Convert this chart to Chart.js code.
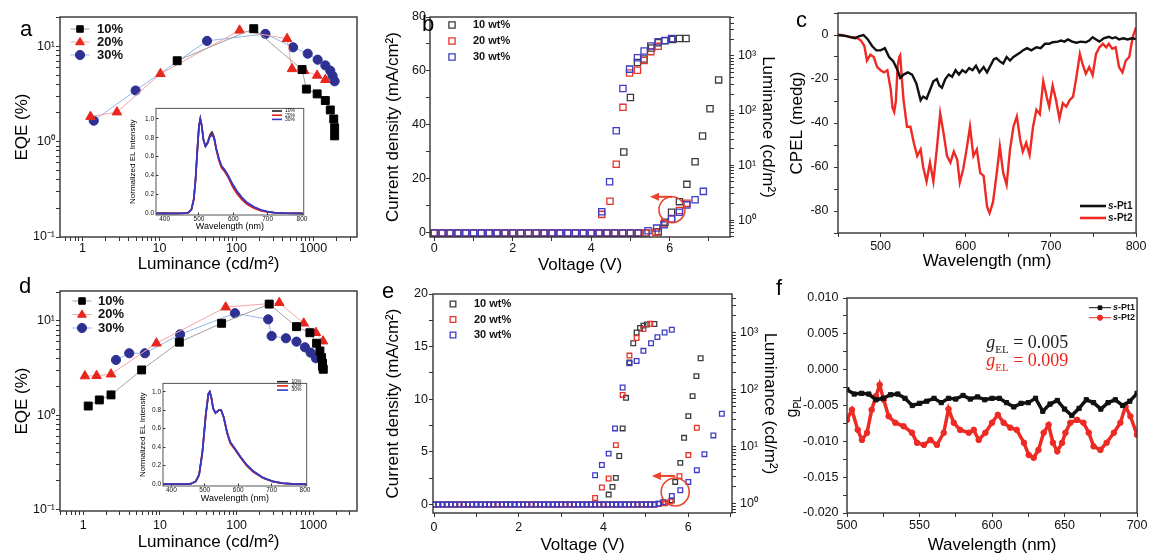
<!DOCTYPE html>
<html>
<head>
<meta charset="utf-8">
<title>EL device figure</title>
<script src="https://cdn.jsdelivr.net/npm/chart.js@4.4.1/dist/chart.umd.min.js"></script>
<style>
  body { margin: 0; background: #fff; }
  #fig { position: relative; width: 1149px; height: 556px; overflow: hidden; font-family: "Liberation Sans", Arial, sans-serif; }
  .panel { position: absolute; }
  .tag { position: absolute; font-size: 22px; line-height: 1; color: #000; }
</style>
</head>
<body>
<div id="fig">
  <div class="panel" style="left:0;top:0;width:380px;height:276px"><canvas id="chartA"></canvas></div>
  <div class="panel" style="left:380px;top:0;width:402px;height:276px"><canvas id="chartB"></canvas></div>
  <div class="panel" style="left:770px;top:0;width:379px;height:276px"><canvas id="chartC"></canvas></div>
  <div class="panel" style="left:0;top:276px;width:380px;height:280px"><canvas id="chartD"></canvas></div>
  <div class="panel" style="left:380px;top:276px;width:402px;height:280px"><canvas id="chartE"></canvas></div>
  <div class="panel" style="left:770px;top:276px;width:379px;height:280px"><canvas id="chartF"></canvas></div>
  <div class="panel" style="left:125px;top:100px;width:185px;height:137px"><canvas id="insetA"></canvas></div>
  <div class="panel" style="left:128px;top:375px;width:185px;height:133px"><canvas id="insetD"></canvas></div>
  <div class="tag" style="left:20px;top:18px">a</div>
  <div class="tag" style="left:422px;top:13px">b</div>
  <div class="tag" style="left:796px;top:9px">c</div>
  <div class="tag" style="left:19px;top:275px">d</div>
  <div class="tag" style="left:382px;top:280px">e</div>
  <div class="tag" style="left:776px;top:277px">f</div>
</div>
<script>
// ---------- panel a : EQE vs luminance ----------
const aLum10 = [17, 168, 713, 812, 1120, 1430, 1660, 1840, 1890, 1890];
const aEqe10 = [7.06, 15.3, 5.7, 3.56, 3.17, 2.7, 2.15, 1.73, 1.4, 1.15];
const aLum20 = [1.27, 2.8, 10.3, 110, 455, 528, 760, 1120, 1430];
const aEqe20 = [1.83, 2.04, 5.15, 14.7, 12.0, 5.8, 5.55, 4.95, 4.46];
const aLum30 = [1.4, 4.9, 41.5, 238, 545, 844, 1137, 1432, 1660, 1775, 1890];
const aEqe30 = [1.66, 3.44, 11.4, 13.5, 9.76, 8.37, 7.24, 6.31, 5.55, 4.9, 4.3];

// inset of a : EL spectra
const aInWl = [375, 400, 440, 460, 470, 478, 485, 490, 495, 500, 504, 508, 513, 519, 525, 532, 538, 544, 550, 558, 566, 575, 585, 598, 610, 625, 640, 660, 680, 700, 720, 750, 800];
const aIn10 = [0, 0, 0, 0.003, 0.01, 0.04, 0.15, 0.35, 0.65, 0.92, 1.0, 0.93, 0.78, 0.71, 0.75, 0.83, 0.86, 0.81, 0.69, 0.57, 0.49, 0.45, 0.39, 0.29, 0.22, 0.15, 0.1, 0.06, 0.03, 0.016, 0.007, 0.002, 0];
const aIn20 = [0, 0, 0, 0.003, 0.01, 0.04, 0.15, 0.35, 0.65, 0.92, 1.0, 0.93, 0.78, 0.71, 0.74, 0.82, 0.84, 0.8, 0.68, 0.56, 0.48, 0.44, 0.38, 0.28, 0.21, 0.145, 0.095, 0.055, 0.028, 0.015, 0.006, 0.002, 0];
const aIn30 = [0, 0, 0, 0.003, 0.01, 0.04, 0.15, 0.35, 0.65, 0.92, 1.0, 0.93, 0.78, 0.71, 0.74, 0.81, 0.83, 0.8, 0.69, 0.58, 0.5, 0.46, 0.4, 0.31, 0.24, 0.17, 0.115, 0.07, 0.037, 0.019, 0.009, 0.003, 0];

// ---------- panel b : J-V-L ----------
const bBaseV = [0, 0.2, 0.4, 0.6, 0.8, 1, 1.2, 1.4, 1.6, 1.8, 2, 2.2, 2.4, 2.6, 2.8, 3, 3.2, 3.4, 3.6, 3.8, 4, 4.2, 4.4, 4.6, 4.8, 5, 5.2];
const bBaseJ = [0, 0, 0, 0, 0, 0, 0, 0, 0, 0, 0, 0, 0, 0, 0, 0, 0, 0, 0, 0, 0, 0, 0, 0, 0, 0, 0];
const bJV10 = [5.4, 5.71, 5.88, 6.05, 6.25, 6.44, 6.65, 6.84, 7.03, 7.25];
const bJ10 = [0, 0.4, 4, 7.7, 11.6, 18, 26.4, 35.9, 46, 56.7];
const bJV20 = [5.4, 5.65, 5.86, 6.05, 6.25, 6.44];
const bJ20 = [0, 0.3, 3.4, 5.2, 8.3, 11];
const bJV30 = [5.45, 5.67, 5.86, 6.05, 6.25, 6.44, 6.65, 6.86];
const bJ30 = [0.8, 1.8, 3, 5.2, 7.7, 10.4, 12.3, 15.4];
const bLV10 = [4.83, 5.0, 5.18, 5.35, 5.54, 5.71, 5.88, 6.08, 6.25, 6.42];
const bL10 = [17.5, 174, 760, 880, 1400, 1740, 1900, 2000, 2090, 2090];
const bLV20 = [4.27, 4.48, 4.64, 4.81, 4.98, 5.18, 5.35, 5.52, 5.71];
const bL20 = [1.27, 2.2, 10.5, 115, 490, 550, 830, 1200, 1500];
const bLV30 = [4.27, 4.47, 4.64, 4.81, 4.98, 5.18, 5.35, 5.52, 5.71, 5.88, 6.05];
const bL30 = [1.42, 5, 43, 254, 575, 930, 1230, 1520, 1820, 1910, 2090];

// ---------- panel c : CPEL ----------
const cWl1 = [450, 460, 470, 475, 480, 485, 490, 495, 500, 505, 510, 515, 520, 523, 527, 532, 537, 542, 547, 550, 554, 558, 562, 566, 569, 572, 576, 580, 584, 588, 592, 596, 600, 604, 608, 612, 616, 621, 625, 629, 633, 636, 640, 644, 648, 652, 656, 660, 664, 667, 672, 677, 683, 688, 693, 698, 702, 708, 712, 716, 720, 725, 730, 735, 741, 745, 749, 753, 757, 762, 768, 772, 776, 780, 785, 790, 795, 800];
const cPt1 = [0, -0.5, -1.5, -0.5, 0, -2, -5, -7, -7, -6, -10, -12, -16, -19.5, -18, -17, -18, -22, -29.6, -28, -29, -25, -21, -20, -23, -24, -20, -18, -19, -16, -18, -16, -17, -15, -16, -14, -17, -14.6, -17, -14, -11, -10.5, -12, -13, -10, -11.6, -10, -9, -8, -7, -6, -7, -5.6, -6, -4, -4, -3.3, -3, -2.5, -3, -2, -3, -3.5, -3, -3.3, -2.5, -1, -2, -3, -1.5, -0.8, -1.5, -1, -2, -1.5, -2, -1.5, -1.8];
const cWl2 = [450, 455, 460, 465, 469, 473, 477, 481, 484, 488, 492, 496, 500, 504, 508, 512, 514, 516, 518, 520, 522, 523, 525, 527, 531, 535, 539, 543, 547, 550, 554, 558, 562, 566, 570, 574, 578, 582, 586, 590, 593, 597, 601, 605, 609, 613, 617, 621, 625, 628, 632, 636, 640, 644, 648, 652, 656, 660, 664, 667, 671, 675, 679, 683, 687, 691, 695, 698, 702, 706, 710, 714, 718, 722, 726, 730, 734, 737, 741, 745, 749, 753, 757, 761, 765, 768, 772, 776, 780, 784, 788, 792, 796, 800];
const cPt2 = [0, 0, -0.5, -1, -1, -1.5, -2.5, -5, -11.6, -9, -10, -14.6, -16, -17, -16, -25, -33, -35, -30, -14, -10, -9.3, -20, -29.6, -41.7, -41.7, -49, -55, -52, -60, -66.5, -58, -66.5, -52, -35.6, -44.7, -55, -58, -53, -56.7, -67, -61, -52, -41.7, -55, -52, -62.7, -64, -78, -81, -76, -64, -50.7, -62.7, -68, -52, -41.7, -37, -47.7, -53, -49, -54.5, -41.7, -34, -36, -21, -28, -32.6, -23, -29.6, -38, -31, -32.6, -29.6, -28, -19, -8.6, -13, -17.6, -14.6, -18.3, -8.6, -5.6, -4, -5.6, -4, -6.3, -5.6, -14.6, -17, -11.6, -10, -1, 3.5];

// ---------- panel d : EQE vs luminance ----------
const dLum10 = [1.16, 1.62, 2.3, 5.77, 17.9, 63.7, 266, 604, 903, 1104, 1220, 1283, 1320, 1320, 1350];
const dEqe10 = [1.25, 1.45, 1.64, 3.02, 5.95, 9.45, 15.1, 8.7, 7.5, 5.8, 4.8, 4.08, 3.56, 3.27, 3.07];
const dLum20 = [1.05, 1.49, 2.3, 9.0, 72, 360, 750, 1082, 1340];
const dEqe20 = [2.6, 2.62, 2.72, 5.8, 14, 15.6, 9.45, 7.5, 6.1];
const dLum30 = [2.67, 3.98, 6.37, 18.3, 95, 258, 286, 440, 604, 777, 922, 1082];
const dEqe30 = [3.86, 4.54, 4.54, 7.2, 12.1, 10.4, 6.92, 6.55, 6.03, 5.25, 4.61, 4.02];

// inset of d : EL spectra
const dInWl = [375, 400, 440, 459, 473, 483, 493, 503, 511, 515, 520, 525, 532, 542, 549, 557, 567, 576, 591, 606, 625, 645, 674, 704, 733, 772, 805];
const dIn10 = [0, 0, 0, 0.005, 0.03, 0.1, 0.35, 0.75, 0.98, 1.0, 0.93, 0.82, 0.77, 0.8, 0.8, 0.72, 0.55, 0.45, 0.38, 0.3, 0.21, 0.14, 0.07, 0.03, 0.01, 0, 0];
const dIn20 = [0, 0, 0, 0.005, 0.03, 0.1, 0.35, 0.75, 0.98, 1.0, 0.93, 0.82, 0.77, 0.8, 0.8, 0.72, 0.55, 0.44, 0.37, 0.29, 0.2, 0.13, 0.065, 0.027, 0.008, 0, 0];
const dIn30 = [0, 0, 0, 0.005, 0.03, 0.1, 0.35, 0.75, 0.98, 1.0, 0.93, 0.82, 0.77, 0.8, 0.8, 0.72, 0.56, 0.46, 0.38, 0.3, 0.21, 0.14, 0.07, 0.03, 0.01, 0, 0];

// ---------- panel e : J-V-L ----------
const eBaseV = [0, 0.1, 0.2, 0.3, 0.4, 0.5, 0.6, 0.7, 0.8, 0.9, 1, 1.1, 1.2, 1.3, 1.4, 1.5, 1.6, 1.7, 1.8, 1.9, 2, 2.1, 2.2, 2.3, 2.4, 2.5, 2.6, 2.7, 2.8, 2.9, 3, 3.1, 3.2, 3.3, 3.4, 3.5, 3.6, 3.7, 3.8, 3.9, 4, 4.1, 4.2, 4.3, 4.4, 4.5, 4.6, 4.7, 4.8, 4.9, 5, 5.1, 5.2];
const eBaseJ = [0, 0, 0, 0, 0, 0, 0, 0, 0, 0, 0, 0, 0, 0, 0, 0, 0, 0, 0, 0, 0, 0, 0, 0, 0, 0, 0, 0, 0, 0, 0, 0, 0, 0, 0, 0, 0, 0, 0, 0, 0, 0, 0, 0, 0, 0, 0, 0, 0, 0, 0, 0, 0];
const eJV10 = [5.3, 5.45, 5.61, 5.69, 5.81, 5.9, 6.0, 6.1, 6.19, 6.29];
const eJ10 = [0.05, 0.15, 0.4, 2.15, 3.96, 6.34, 8.4, 10.3, 12.2, 13.9];
const eJV20 = [5.3, 5.45, 5.58, 5.79, 6.0, 6.2];
const eJ20 = [0.05, 0.12, 0.3, 2.7, 4.7, 7.3];
const eJV30 = [5.3, 5.41, 5.61, 5.81, 6.0, 6.2, 6.38, 6.59, 6.79];
const eJ30 = [0.1, 0.25, 0.82, 1.36, 2.15, 3.27, 4.79, 6.57, 8.63];
const eLV10 = [4.12, 4.21, 4.29, 4.37, 4.45, 4.53, 4.61, 4.7, 4.78, 4.86, 4.94, 5.02, 5.2];
const eL10 = [1.46, 1.99, 2.86, 6.9, 21, 72, 300, 650, 1000, 1200, 1320, 1380, 1410];
const eLV20 = [3.8, 3.96, 4.12, 4.29, 4.45, 4.61, 4.78, 4.94, 5.1];
const eL20 = [1.27, 1.94, 2.79, 10.7, 81, 395, 800, 1150, 1420];
const eLV30 = [3.8, 3.96, 4.12, 4.27, 4.45, 4.61, 4.78, 4.94, 5.12, 5.27, 5.44, 5.61];
const eL30 = [3.18, 4.8, 7.6, 21, 109, 290, 318, 478, 650, 830, 1000, 1120];

// ---------- panel f : g factor ----------
const fWl1 = [500, 505, 510, 515, 520, 525, 530, 535, 540, 545, 550, 555, 560, 565, 570, 575, 580, 585, 590, 595, 600, 605, 610, 615, 620, 625, 630, 635, 640, 645, 650, 655, 660, 665, 670, 675, 680, 685, 690, 695, 700];
const fPt1 = [-0.0028, -0.0034, -0.0033, -0.0034, -0.0042, -0.004, -0.0035, -0.0034, -0.004, -0.005, -0.0047, -0.0044, -0.004, -0.0046, -0.004, -0.0041, -0.0036, -0.0041, -0.0038, -0.0042, -0.004, -0.004, -0.0046, -0.0052, -0.0047, -0.0046, -0.004, -0.0058, -0.0048, -0.0043, -0.0055, -0.0064, -0.0054, -0.0042, -0.0046, -0.0055, -0.0046, -0.0042, -0.005, -0.0044, -0.0033];
const fWl2 = [500, 503.4, 507.4, 510.3, 513.8, 517, 520, 522.5, 525.3, 528.7, 533.3, 539, 544.8, 548.3, 553, 557.5, 562, 566.7, 570, 573.6, 578, 584, 587.4, 590.8, 595.4, 600, 604, 608, 612.6, 617, 622, 625.3, 628.7, 632, 635.6, 639, 642, 645, 648.3, 650.6, 654, 658.6, 663, 666.7, 670, 674.7, 679, 684, 688.5, 692, 695.4, 700];
const fPt2 = [-0.007, -0.0056, -0.0084, -0.0098, -0.0088, -0.0056, -0.0037, -0.0021, -0.0042, -0.0065, -0.0074, -0.0079, -0.0088, -0.0102, -0.0105, -0.0098, -0.0105, -0.0088, -0.0055, -0.0074, -0.0084, -0.0088, -0.0084, -0.0098, -0.0088, -0.0074, -0.0063, -0.0074, -0.0081, -0.0084, -0.0102, -0.0119, -0.0123, -0.0112, -0.0088, -0.0077, -0.0102, -0.0114, -0.0102, -0.0088, -0.0074, -0.007, -0.0074, -0.0088, -0.0107, -0.0112, -0.0102, -0.0088, -0.0074, -0.0051, -0.0065, -0.0091];

/* ================= helpers ================= */

Chart.defaults.font.family = "'Liberation Sans', Arial, sans-serif";
Chart.defaults.color = '#111';

const RED = '#e8261e';
const NAVY = '#2e3192';
const SUP = { '-': '\u207B', '0': '\u2070', '1': '\u00B9', '2': '\u00B2', '3': '\u00B3' };

const pts = (xs, ys) => xs.map((x, i) => ({ x: x, y: ys[i] }));

function isPow10(v) {
    const e = Math.log10(v);
    return Math.abs(e - Math.round(e)) < 1e-6;
}
const powLabel = v => isPow10(v) ? '10' + String(Math.round(Math.log10(v))).split('').map(ch => SUP[ch]).join('') : '';
const plainPow = v => isPow10(v) ? String(Math.round(v)) : '';
const every = (n, digits) => v => {
    const k = v / n;
    if (Math.abs(k - Math.round(k)) > 1e-6) return '';
    const val = Math.abs(v) < 1e-12 ? 0 : v;
    return digits == null ? String(Math.round(val * 1000) / 1000) : val.toFixed(digits);
};

// minor ticks 1..9 x 10^k inside the range
function logTicks(min, max) {
    const out = [];
    for (let e = Math.floor(Math.log10(min)); e <= Math.ceil(Math.log10(max)); e++) {
        for (let m = 1; m < 10; m++) {
            const v = m * Math.pow(10, e);
            if (v >= min * 0.999 && v <= max * 1.001) out.push(v);
        }
    }
    return out;
}

function axis(o) {
    const horizontal = o.pos === 'bottom';
    const a = {
        type: o.log ? 'logarithmic' : 'linear',
        position: o.pos,
        min: o.min,
        max: o.max,
        border: { display: false },
        grid: { drawOnChartArea: false, tickLength: o.tick == null ? 4 : o.tick, color: '#333' },
        ticks: {
            autoSkip: false, maxRotation: 0, includeBounds: false, stepSize: o.step,
            padding: o.tickPad == null ? 3 : o.tickPad, color: '#111',
            font: { size: o.fs || 12.5 }, callback: o.label
        },
        title: { display: !!o.title, text: o.title, color: '#000', font: { size: o.ts || 17 }, padding: o.tp || 0 },
        afterFit: s => { if (horizontal) s.height = o.size; else s.width = o.size; }
    };
    if (o.log) a.afterBuildTicks = s => { s.ticks = logTicks(o.min, o.max).map(v => ({ value: v })); };
    return a;
}

function marker(ctx, style, x, y, r) {
    ctx.beginPath();
    if (style === 'rect') {
        const s = r * Math.SQRT1_2;
        ctx.rect(x - s, y - s, 2 * s, 2 * s);
    } else if (style === 'triangle') {
        ctx.moveTo(x, y - r);
        ctx.lineTo(x + r * 0.95, y + r * 0.6);
        ctx.lineTo(x - r * 0.95, y + r * 0.6);
        ctx.closePath();
    } else {
        ctx.arc(x, y, r, 0, Math.PI * 2);
    }
}

// box round the plot area
const framePlugin = {
    id: 'frame',
    afterDatasetsDraw(chart, args, o) {
        const a = chart.chartArea, c = chart.ctx;
        c.save();
        c.strokeStyle = o.color || '#333';
        c.lineWidth = o.width || 1.4;
        c.strokeRect(a.left, a.top, a.right - a.left, a.bottom - a.top);
        c.restore();
    }
};

// small key drawn inside the plot
const keyPlugin = {
    id: 'key',
    afterDatasetsDraw(chart, args, o) {
        if (o.x == null) return;
        const c = chart.ctx;
        let row = 0;
        chart.data.datasets.forEach(ds => {
            if (!ds.label || ds.noKey) return;
            const y = o.y + row * o.dy;
            row++;
            c.save();
            if (o.line) {
                c.strokeStyle = ds.borderColor;
                c.lineWidth = o.lineWidth || ds.borderWidth;
                c.beginPath();
                c.moveTo(o.x - o.line / 2, y);
                c.lineTo(o.x + o.line / 2, y);
                c.stroke();
            }
            if (o.mark) {
                marker(c, ds.pointStyle, o.x, y, o.mark);
                c.fillStyle = ds.pointBackgroundColor;
                c.fill();
                c.strokeStyle = ds.pointBorderColor;
                c.lineWidth = ds.pointBorderWidth || 1;
                c.stroke();
            }
            c.fillStyle = '#111';
            c.textBaseline = 'middle';
            c.font = o.font;
            let tx = o.x + o.gap;
            if (ds.label.startsWith('s-')) {
                c.font = 'italic ' + o.font;
                c.fillText('s', tx, y);
                tx += c.measureText('s').width;
                c.font = o.font;
                c.fillText(ds.label.slice(1), tx, y);
            } else {
                c.fillText(ds.label, tx, y);
            }
            c.restore();
        });
    }
};

Chart.register(framePlugin, keyPlugin);

function makeChart(id, datasets, scales, pad, key, extra, frame) {
    return new Chart(document.getElementById(id), {
        type: 'scatter',
        data: { datasets: datasets },
        options: {
            responsive: true,
            maintainAspectRatio: false,
            animation: false,
            events: [],
            layout: { padding: pad },
            scales: scales,
            plugins: {
                legend: { display: false },
                tooltip: { enabled: false },
                key: key || {},
                frame: frame || {}
            }
        },
        plugins: extra || []
    });
}

/* ================= EQE panels ================= */

function eqeSets(l10, e10, l20, e20, l30, e30) {
    return [
        { label: '10%', data: pts(l10, e10), showLine: true, borderColor: '#a0a0a0', borderWidth: 1,
          pointStyle: 'rect', pointRadius: 5.6, pointBackgroundColor: '#000', pointBorderColor: '#000', pointBorderWidth: 1 },
        { label: '20%', data: pts(l20, e20), showLine: true, borderColor: '#f3a5a5', borderWidth: 1,
          pointStyle: 'triangle', pointRadius: 5.5, pointBackgroundColor: RED, pointBorderColor: RED, pointBorderWidth: 1 },
        { label: '30%', data: pts(l30, e30), showLine: true, borderColor: '#93b6ea', borderWidth: 1,
          pointStyle: 'circle', pointRadius: 4.6, pointBackgroundColor: NAVY, pointBorderColor: NAVY, pointBorderWidth: 1 }
    ];
}

makeChart('chartA', eqeSets(aLum10, aEqe10, aLum20, aEqe20, aLum30, aEqe30), {
    x: axis({ pos: 'bottom', log: true, min: 0.51, max: 3690, size: 39, tickPad: 0, label: plainPow, title: 'Luminance (cd/m\u00B2)', tp: 1 }),
    y: axis({ pos: 'left', log: true, min: 0.1, max: 20.3, size: 60, tickPad: 1, label: powLabel, title: 'EQE (%)', tp: 12 })
}, { top: 17, right: 23 }, { x: 80, y: 29, dy: 13, line: 19, lineWidth: 1, mark: 4.6, gap: 17, font: 'bold 13px "Liberation Sans", Arial' });

makeChart('chartD', eqeSets(dLum10, dEqe10, dLum20, dEqe20, dLum30, dEqe30), {
    x: axis({ pos: 'bottom', log: true, min: 0.497, max: 3715, size: 45, tickPad: 3, label: plainPow, title: 'Luminance (cd/m\u00B2)', tp: 3 }),
    y: axis({ pos: 'left', log: true, min: 0.096, max: 20.8, size: 60, tickPad: 1, label: powLabel, title: 'EQE (%)', tp: 12 })
}, { top: 15, right: 23 }, { x: 82, y: 25, dy: 13.5, line: 19, lineWidth: 1, mark: 4.6, gap: 16, font: 'bold 13px "Liberation Sans", Arial' });

function specSets(wl, s10, s20, s30) {
    return [
        { label: '10%', data: pts(wl, s10), showLine: true, borderColor: '#222', borderWidth: 1.6, pointRadius: 0, order: 2 },
        { label: '20%', data: pts(wl, s20), showLine: true, borderColor: '#e02424', borderWidth: 1.6, pointRadius: 0, order: 1 },
        { label: '30%', data: pts(wl, s30), showLine: true, borderColor: '#3838c4', borderWidth: 1.8, pointRadius: 0, order: 0 }
    ];
}

// inset ticks point inward, labels sit right against the frame
function insetScales(yMin, yMax, ySize, yTp, xTp) {
    return {
        x: axis({ pos: 'bottom', min: 375, max: 805, step: 100, size: 22, fs: 6.5, tick: -2.5, tickPad: 2.5,
                  label: every(100), title: 'Wavelength (nm)', ts: 9, tp: xTp }),
        y: axis({ pos: 'left', min: yMin, max: yMax, step: 0.2, size: ySize, fs: 6.5, tick: -2.5, tickPad: 4.5,
                  label: every(0.2, 1), title: 'Normalized EL Intensity', ts: 8, tp: yTp })
    };
}

makeChart('insetA', specSets(aInWl, aIn10, aIn20, aIn30), insetScales(-0.017, 1.11, 31, 3, 4.9),
    { top: 5, right: 6 }, { x: 152, y: 11, dy: 4.2, line: 10, lineWidth: 1.6, gap: 8, font: '5px "Liberation Sans", Arial' },
    [], { width: 1, color: '#555' });

makeChart('insetD', specSets(dInWl, dIn10, dIn20, dIn30), insetScales(-0.02, 1.09, 35, 10, 3.6),
    { top: 5, right: 5 }, { x: 154.5, y: 6.7, dy: 4.2, line: 11, lineWidth: 1.6, gap: 9, font: '5px "Liberation Sans", Arial' },
    [], { width: 1, color: '#555' });

/* ================= J-V-L panels ================= */

function hollow(label, color, xs, ys, axisId, order, r, noKey) {
    return { label: label, noKey: noKey, data: pts(xs, ys), yAxisID: axisId, order: order, showLine: false,
             pointStyle: 'rect', pointRadius: r, pointBorderWidth: 1.3, pointBorderColor: color,
             pointBackgroundColor: 'rgba(255,255,255,0)', borderColor: color };
}

const C10 = '#3c3c3c', C20 = '#e6332b', C30 = '#3d3dc6';

function ringPlugin(id, ring) {
    return {
        id: id,
        afterDatasetsDraw(chart) {
            const { ctx, scales } = chart;
            const x = scales.x, y = scales.y;
            const cx = x.getPixelForValue(ring.cx), cy = y.getPixelForValue(ring.cy);
            const ay = y.getPixelForValue(ring.ay);
            const x1 = x.getPixelForValue(ring.ax1), x2 = x.getPixelForValue(ring.ax2);
            ctx.save();
            ctx.strokeStyle = '#e8452c';
            ctx.fillStyle = '#e8452c';
            ctx.lineWidth = 1.6;
            ctx.beginPath();
            ctx.arc(cx, cy, ring.radius, 0, Math.PI * 2);
            ctx.stroke();
            ctx.lineWidth = 2;
            ctx.beginPath();
            ctx.moveTo(x1, ay);
            ctx.lineTo(x2 + 6, ay);
            ctx.stroke();
            ctx.beginPath();
            ctx.moveTo(x2, ay);
            ctx.lineTo(x2 + 9, ay - 4);
            ctx.lineTo(x2 + 9, ay + 4);
            ctx.closePath();
            ctx.fill();
            ctx.restore();
        }
    };
}

makeChart('chartB', [
    hollow('10 wt%', C10, bBaseV.concat(bJV10), bBaseJ.concat(bJ10), 'y', 2, 4.4),
    hollow('20 wt%', C20, bBaseV.concat(bJV20), bBaseJ.concat(bJ20), 'y', 1, 4.4),
    hollow('30 wt%', C30, bBaseV.concat(bJV30), bBaseJ.concat(bJ30), 'y', 0, 4.4),
    hollow('10 wt%', C10, bLV10, bL10, 'y2', 2, 4.4, true),
    hollow('20 wt%', C20, bLV20, bL20, 'y2', 1, 4.4, true),
    hollow('30 wt%', C30, bLV30, bL30, 'y2', 0, 4.4, true)
], {
    x: axis({ pos: 'bottom', min: -0.11, max: 7.54, step: 1, size: 39, tickPad: 0, label: every(2), title: 'Voltage (V)', tp: 0 }),
    y: axis({ pos: 'left', min: -1.5, max: 80, step: 10, size: 50, tickPad: 0, label: every(20), title: 'Current density (mA/cm\u00B2)', tp: 3 }),
    y2: axis({ pos: 'right', log: true, min: 0.49, max: 5160, size: 52, tickPad: 4, label: powLabel, title: 'Luminance (cd/m\u00B2)', tp: 4 })
}, { top: 17 }, { x: 72, y: 25, dy: 16, mark: 4.4, gap: 21, font: 'bold 11px "Liberation Sans", Arial' },
[ringPlugin('ringB', { cx: 6.06, cy: 8.6, radius: 13, ax1: 6.06, ax2: 5.5, ay: 13.4 })]);

makeChart('chartE', [
    hollow('10 wt%', C10, eBaseV.concat(eJV10), eBaseJ.concat(eJ10), 'y', 2, 3.3),
    hollow('20 wt%', C20, eBaseV.concat(eJV20), eBaseJ.concat(eJ20), 'y', 1, 3.3),
    hollow('30 wt%', C30, eBaseV.concat(eJV30), eBaseJ.concat(eJ30), 'y', 0, 3.3),
    hollow('10 wt%', C10, eLV10, eL10, 'y2', 2, 3.3, true),
    hollow('20 wt%', C20, eLV20, eL20, 'y2', 1, 3.3, true),
    hollow('30 wt%', C30, eLV30, eL30, 'y2', 0, 3.3, true)
], {
    x: axis({ pos: 'bottom', min: -0.024, max: 7.03, step: 1, size: 43, tickPad: 3, label: every(2), title: 'Voltage (V)', tp: 0 }),
    y: axis({ pos: 'left', min: -0.8, max: 20, step: 2.5, size: 53, tickPad: 1, label: every(5), title: 'Current density (mA/cm\u00B2)', tp: 3 }),
    y2: axis({ pos: 'right', log: true, min: 0.695, max: 4720, size: 50, tickPad: 4, label: powLabel, title: 'Luminance (cd/m\u00B2)', tp: 2 })
}, { top: 18 }, { x: 73, y: 28, dy: 15.5, mark: 4, gap: 21, font: 'bold 11px "Liberation Sans", Arial' },
[ringPlugin('ringE', { cx: 5.69, cy: 1.2, radius: 14, ax1: 5.69, ax2: 5.14, ay: 2.72 })]);

/* ================= CPEL panel ================= */

makeChart('chartC', [
    { label: 's-Pt1', data: pts(cWl1, cPt1), showLine: true, borderColor: '#111', borderWidth: 2.4, pointRadius: 0, order: 0 },
    { label: 's-Pt2', data: pts(cWl2, cPt2), showLine: true, borderColor: '#ee2a24', borderWidth: 2.4, pointRadius: 0, order: 1 }
], {
    x: axis({ pos: 'bottom', min: 450, max: 800, step: 50, size: 43, tickPad: 2.5, label: every(100), title: 'Wavelength (nm)', tp: 4 }),
    y: axis({ pos: 'left', min: -90, max: 10, step: 10, size: 68, tickPad: 5.5, label: every(20), title: 'CPEL (medg)', tp: 17 })
}, { top: 13, right: 12 }, { x: 323, y: 206, dy: 12, line: 26, lineWidth: 2.6, gap: 15, font: 'bold 10px "Liberation Sans", Arial' });

/* ================= g factor panel ================= */

function subText(ctx, x, y, main, sub, rest, size, family, italic, color) {
    ctx.fillStyle = color;
    ctx.textBaseline = 'alphabetic';
    ctx.textAlign = 'left';
    ctx.font = (italic ? 'italic ' : '') + size + 'px ' + family;
    ctx.fillText(main, x, y);
    x += ctx.measureText(main).width;
    ctx.font = Math.round(size * 0.62) + 'px ' + family;
    ctx.fillText(sub, x, y + size * 0.25);
    x += ctx.measureText(sub).width + size * 0.25;
    if (rest) {
        ctx.font = size + 'px ' + family;
        ctx.fillText(rest, x, y);
    }
}

const gNotes = {
    id: 'gNotes',
    afterDraw(chart) {
        const { ctx, scales: { x, y }, chartArea } = chart;
        const serif = '"Liberation Serif", "Times New Roman", serif';
        ctx.save();
        subText(ctx, x.getPixelForValue(596), y.getPixelForValue(0.003), 'g', 'EL', '= 0.005', 18, serif, true, '#222');
        subText(ctx, x.getPixelForValue(596), y.getPixelForValue(0.0005), 'g', 'EL', '= 0.009', 18, serif, true, '#e8261e');
        ctx.translate(27, (chartArea.top + chartArea.bottom) / 2 + 3);
        ctx.rotate(-Math.PI / 2);
        subText(ctx, -9, 0, 'g', 'PL', '', 16, '"Liberation Sans", Arial', false, '#000');
        ctx.restore();
    }
};

makeChart('chartF', [
    { label: 's-Pt1', data: pts(fWl1, fPt1), showLine: true, borderColor: '#111', borderWidth: 3.5, order: 0,
      pointStyle: 'rect', pointRadius: 3, pointBackgroundColor: '#111', pointBorderColor: '#111', pointBorderWidth: 1 },
    { label: 's-Pt2', data: pts(fWl2, fPt2), showLine: true, borderColor: '#ee2a24', borderWidth: 3.5, order: 1,
      pointStyle: 'circle', pointRadius: 2.8, pointBackgroundColor: '#ee2a24', pointBorderColor: '#ee2a24', pointBorderWidth: 1 }
], {
    x: axis({ pos: 'bottom', min: 500, max: 700, step: 25, size: 43, tickPad: 1.5, label: every(50), title: 'Wavelength (nm)', tp: 0 }),
    y: axis({ pos: 'left', min: -0.02, max: 0.01, step: 0.0025, size: 77, tickPad: 4.5, label: every(0.005, 3) })
}, { top: 22, right: 11 }, { x: 330, y: 31.7, dy: 10, line: 22, lineWidth: 1, mark: 2.6, gap: 13, font: 'bold 9px "Liberation Sans", Arial' },
[gNotes]);
</script>
</body>
</html>
